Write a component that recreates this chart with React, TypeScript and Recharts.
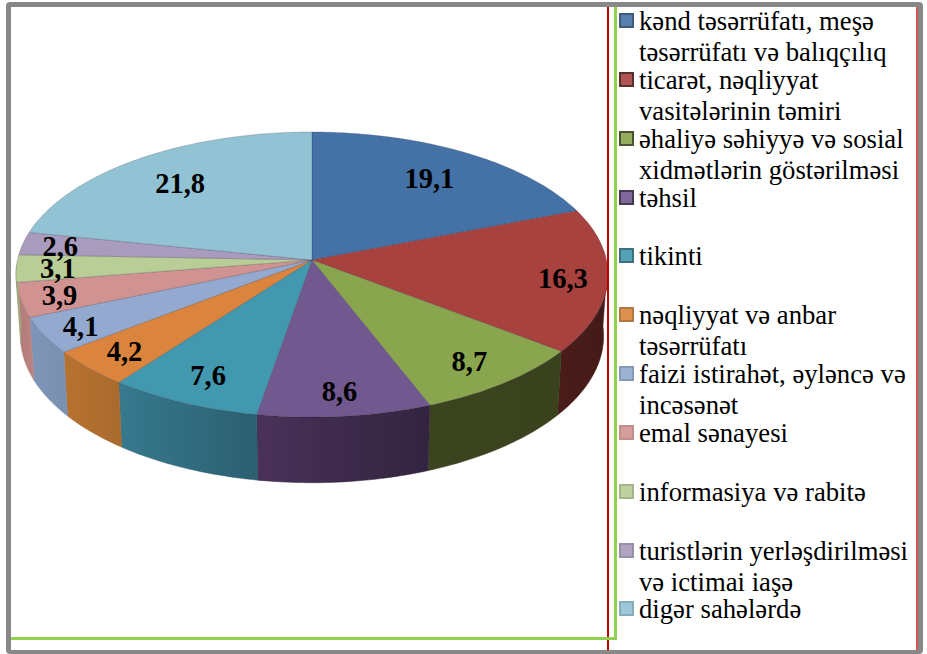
import { PieChart, Pie, Legend } from 'recharts';

const sectors = [
  'kənd təsərrüfatı, meşə təsərrüfatı və balıqçılıq',
  'ticarət, nəqliyyat vasitələrinin təmiri',
  'əhaliyə səhiyyə və sosial xidmətlərin göstərilməsi',
  'təhsil',
  'tikinti',
  'nəqliyyat və anbar təsərrüfatı',
  'faizi istirahət, əyləncə və incəsənət',
  'emal sənayesi',
  'informasiya və rabitə',
  'turistlərin yerləşdirilməsi və ictimai iaşə',
  'digər sahələrdə',
];
const shares = [19.1, 16.3, 8.7, 8.6, 7.6, 4.2, 4.1, 3.9, 3.1, 2.6, 21.8];
const topColors = ['#4572a6', '#a8423f', '#89a54e', '#71588f', '#4198af', '#db843d', '#93a9cf', '#d19392', '#b9cd96', '#a99bbd', '#92c3d5'];
const wallLeft = ['#2d4a6d', '#4a1c1a', '#3b431f', '#4a3159', '#37798e', '#b8722f', '#7d95b8', '#b07b7a', '#9cae7f', '#8f83a0', '#7ba5b4'];
const wallRight = ['#2d4a6d', '#431a17', '#39411d', '#32243f', '#2b5f70', '#a96a2e', '#7a90b0', '#bb8280', '#9cae7f', '#8f83a0', '#7ba5b4'];
// how far out along its slice each value label sits
const labelReach = [0.75, 0.85, 0.83, 0.85, 0.82, 0.85, 0.87, 0.87, 0.86, 0.87, 0.75];

const tableData = sectors.map((name, i) => ({ name, value: shares[i], fill: topColors[i] }));

// 3D look: the flat pie circle is pushed through a perspective projection
const PERSPECTIVE = 0.1018;
const TILT = 0.4764;
const WIDTH_FIX = 0.995;
const CX = 312;
const CY = 260;
const RADIUS = 296;

function project(angle: number, r: number) {
  const rad = (angle * Math.PI) / 180;
  const u = Math.cos(rad) * r;
  const v = Math.sin(rad) * r;
  const d = 1 + PERSPECTIVE * v;
  return { x: (RADIUS * WIDTH_FIX * u) / d, y: -(RADIUS * TILT * v) / d };
}

function lowerRim(p: { x: number; y: number }) {
  return { x: CX + p.x * 0.985, y: CY + p.y * 1.03 + 61 };
}

function arcPoints(from: number, to: number) {
  const steps = Math.max(2, Math.ceil(Math.abs(from - to)));
  const pts = [];
  for (let i = 0; i <= steps; i++) pts.push(project(from + ((to - from) * i) / steps, 1));
  return pts;
}

function Slice3D(props: any) {
  const { startAngle, endAngle, name } = props;
  const i = sectors.indexOf(name);
  const top = arcPoints(startAngle, endAngle).map((p) => `${CX + p.x},${CY + p.y}`);
  // only the front of the rim shows
  const wallFrom = Math.min(startAngle, -2);
  const wallTo = Math.max(endAngle, -178);
  let wall = null;
  if (wallFrom > wallTo) {
    const rim = arcPoints(wallFrom, wallTo);
    const upper = rim.map((p) => `${CX + p.x},${CY + p.y}`);
    const lower = rim.map(lowerRim).reverse().map((p) => `${p.x},${p.y}`);
    wall = (
      <>
        <defs>
          <linearGradient id={`wall${i}`} x1="0" y1="0" x2="1" y2="0">
            <stop offset="0%" stopColor={wallLeft[i]} />
            <stop offset="100%" stopColor={wallRight[i]} />
          </linearGradient>
        </defs>
        <polygon points={[...upper, ...lower].join(' ')} fill={`url(#wall${i})`} stroke={wallRight[i]} strokeWidth={0.5} />
      </>
    );
  }
  return (
    <g>
      {wall}
      <polygon points={[`${CX},${CY}`, ...top].join(' ')} fill={topColors[i]} stroke="rgba(40,40,60,0.28)" strokeWidth={0.8} />
    </g>
  );
}

function SliceLabel(props: any) {
  const { midAngle, value, index } = props;
  const p = project(midAngle, labelReach[index]);
  return (
    <text
      x={CX + p.x}
      y={CY + p.y + 1}
      textAnchor="middle"
      dominantBaseline="central"
      fill="#000"
      fontFamily="'Liberation Serif', serif"
      fontWeight="bold"
      fontSize={28.5}
    >
      {String(value).replace('.', ',')}
    </text>
  );
}

function SideLegend() {
  return (
    <div style={{ fontFamily: "'Liberation Serif', serif", fontSize: 26.7, lineHeight: '31px', color: '#000' }}>
      {sectors.map((name, i) => (
        <div key={name} style={{ position: 'relative', height: 58.85, paddingLeft: 21 }}>
          <span
            style={{
              position: 'absolute',
              left: 1,
              top: 7,
              width: 11,
              height: 11,
              background: topColors[i],
              border: `2px solid ${wallRight[i]}`,
              opacity: 0.9,
            }}
          />
          {name}
        </div>
      ))}
    </div>
  );
}

const frameLine = { position: 'absolute' as const };

export default function App() {
  return (
    <div style={{ position: 'absolute', left: 0, top: 0, width: 927, height: 654, overflow: 'hidden', background: '#fff' }}>
      <PieChart width={927} height={654} style={{ position: 'absolute', left: 0, top: 0 }}>
        <Pie
          data={tableData}
          dataKey="value"
          nameKey="name"
          cx={CX}
          cy={CY}
          outerRadius={RADIUS}
          startAngle={90}
          endAngle={-270}
          stroke="none"
          labelLine={false}
          label={SliceLabel}
          shape={Slice3D}
          isAnimationActive={false}
        />
        <Legend content={<SideLegend />} wrapperStyle={{ left: 618, top: 6, width: 296 }} />
      </PieChart>
      <div style={{ ...frameLine, left: 607, top: 5, width: 2, height: 646, background: '#c00000' }} />
      <div style={{ ...frameLine, left: 916, top: 5, width: 2, height: 646, background: '#d9534f' }} />
      <div style={{ ...frameLine, left: 614, top: 5, width: 3, height: 635, background: '#92d050' }} />
      <div style={{ ...frameLine, left: 10, top: 637, width: 607, height: 3, background: '#92d050' }} />
      <div
        style={{
          ...frameLine,
          left: 6,
          top: 2,
          width: 917,
          height: 652,
          boxSizing: 'border-box',
          border: '5px solid #888',
          borderBottomWidth: 4,
          borderRadius: 4,
        }}
      />
    </div>
  );
}
